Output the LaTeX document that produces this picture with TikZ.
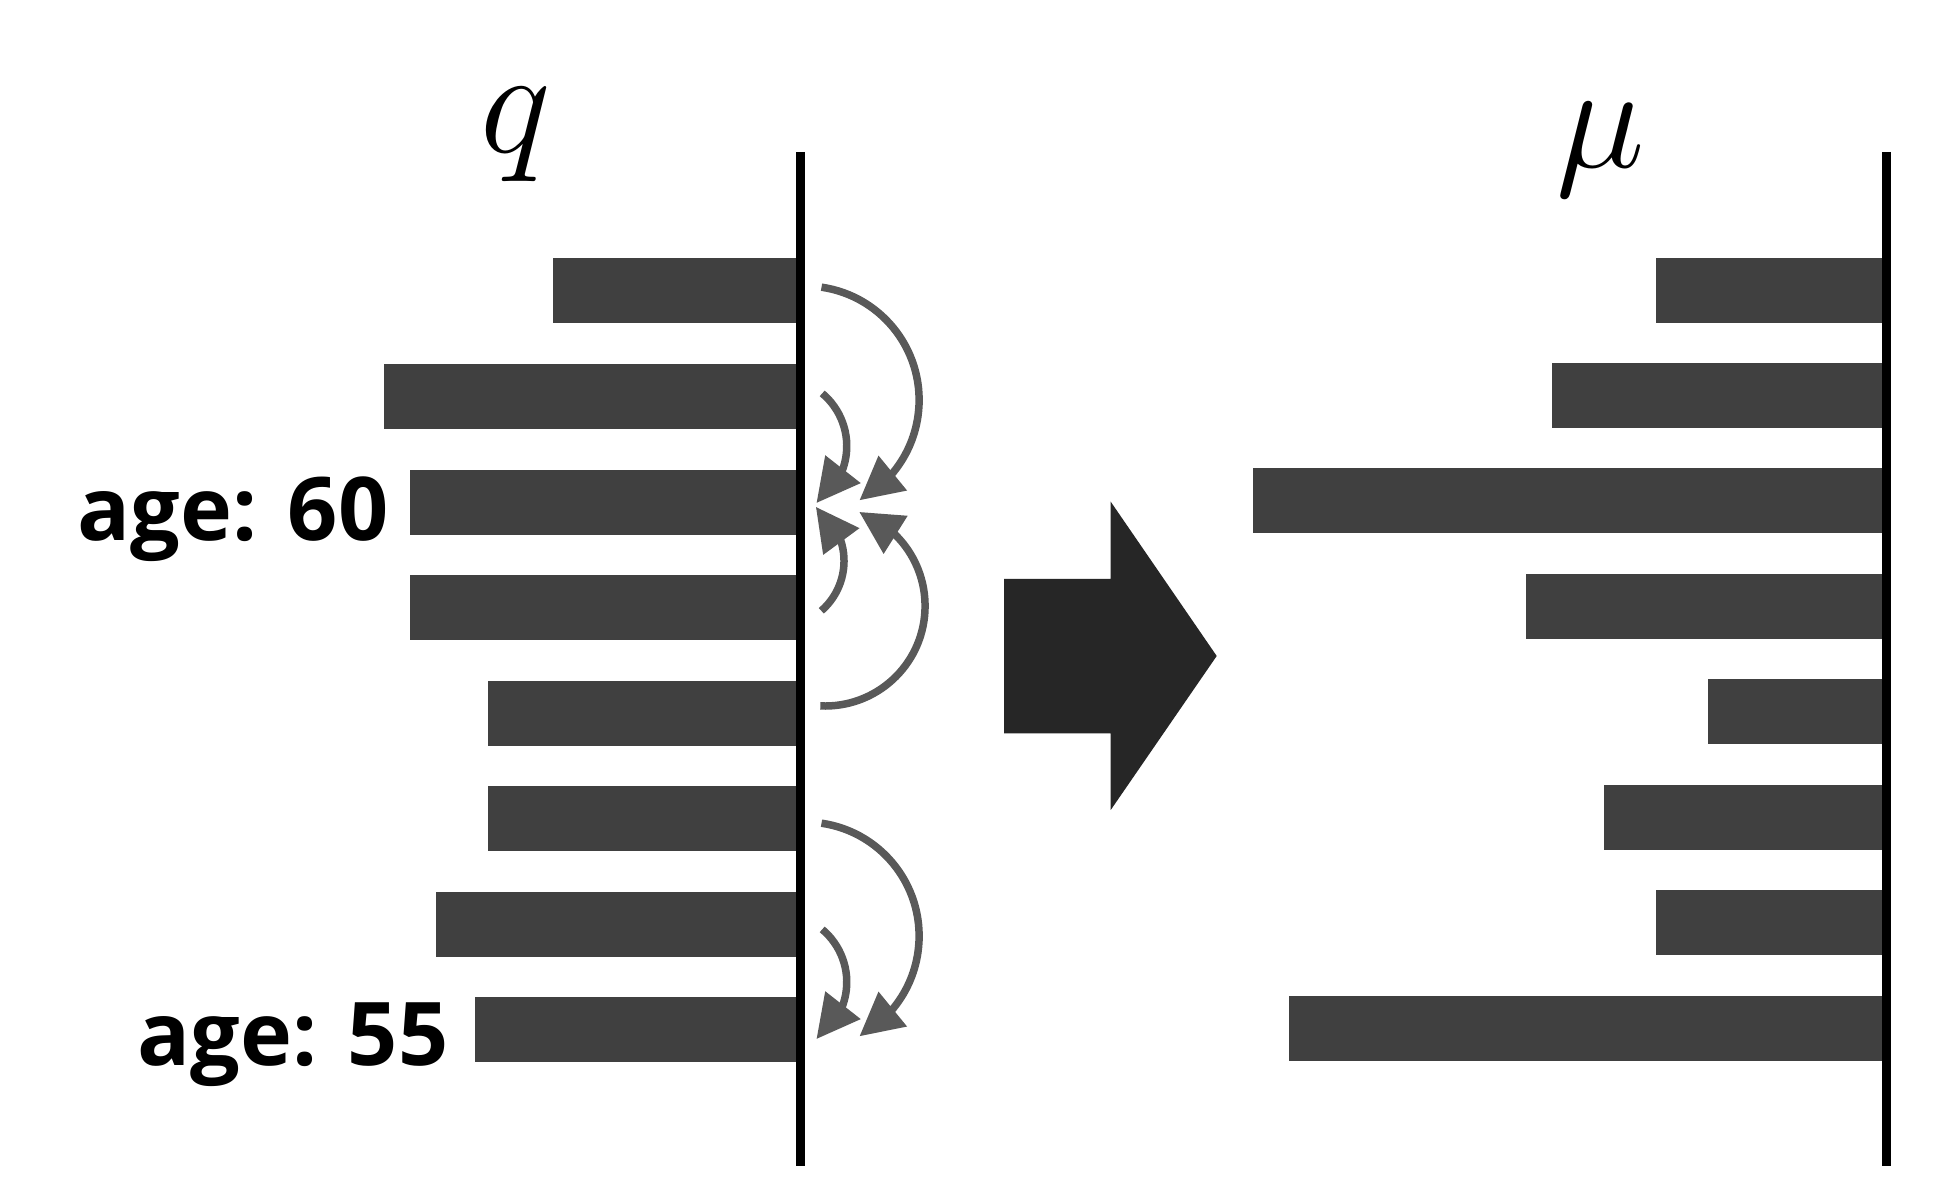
\RequirePackage{fix-cm}
\documentclass[tikz,border=0pt]{standalone}
\usepackage{fontspec}
\newfontfamily\agefont{Open Sans}
\usetikzlibrary{arrows.meta,bending}
\definecolor{barc}{HTML}{404040}
\definecolor{arcc}{HTML}{595959}
\definecolor{blockc}{HTML}{262626}
\begin{document}
\begin{tikzpicture}[x=0.01cm,y=-0.01cm,
  hbar/.style={fill=barc, draw=none, inner sep=0pt, outer sep=0pt, minimum height=0.65cm, anchor=north east},
  axisline/.style={line width=2.56pt, draw=black},
  movearc/.style={draw=arcc, line width=2.13pt, -{Triangle[length=0.43cm, width=0.43cm, flex]}},
  lbl/.style={font=\agefont\bfseries\fontsize{25}{30}\selectfont, inner sep=0pt, anchor=base west},
  sym/.style={font=\fontsize{42.7}{50}\selectfont, inner sep=0pt, anchor=base}]
\useasboundingbox (0,0) rectangle (1949,1189);
\fill[white] (0,0) rectangle (1949,1189);
% left bars
\node[hbar, minimum width=2.47cm] (L1) at (800,258) {};
\node[hbar, minimum width=4.16cm] (L2) at (800,364) {};
\node[hbar, minimum width=3.90cm] (L3) at (800,470) {};
\node[hbar, minimum width=3.90cm] (L4) at (800,575) {};
\node[hbar, minimum width=3.12cm] (L5) at (800,681) {};
\node[hbar, minimum width=3.12cm] (L6) at (800,786) {};
\node[hbar, minimum width=3.64cm] (L7) at (800,892) {};
\node[hbar, minimum width=3.25cm] (L8) at (800,997) {};
% right bars
\node[hbar, minimum width=2.30cm] (R1) at (1886,258) {};
\node[hbar, minimum width=3.34cm] (R2) at (1886,363) {};
\node[hbar, minimum width=6.33cm] (R3) at (1886,468) {};
\node[hbar, minimum width=3.60cm] (R4) at (1886,574) {};
\node[hbar, minimum width=1.78cm] (R5) at (1886,679) {};
\node[hbar, minimum width=2.82cm] (R6) at (1886,785) {};
\node[hbar, minimum width=2.30cm] (R7) at (1886,890) {};
\node[hbar, minimum width=5.97cm] (R8) at (1886,996) {};
% axes
\coordinate (qtop) at (800,152);
\coordinate (qbot) at (800,1166);
\coordinate (mtop) at (1886,152);
\coordinate (mbot) at (1886,1166);
\draw[axisline] (qtop) -- (qbot);
\draw[axisline] (mtop) -- (mbot);
% labels
\node[sym] (qlab) at (516,153) {$q$};
\node[sym] (mulab) at (1601,168) {$\mu$};
\node[lbl] (age60) at (77,541) {age: 60};
\node[lbl] (age55) at (137,1065) {age: 55};
% swap arcs
\coordinate (a1s) at (821.5,287.2);
\draw[movearc] (a1s) arc[start angle=81.7, end angle=-61.5, radius=1.14cm];
\coordinate (a2s) at (822.2,393.4);
\draw[movearc] (a2s) arc[start angle=50, end angle=-56, radius=0.687cm];
\coordinate (a3s) at (821.3,610.8);
\draw[movearc] (a3s) arc[start angle=-49, end angle=55, radius=0.66cm];
\coordinate (a4s) at (820.3,705.9);
\draw[movearc] (a4s) arc[start angle=-92.7, end angle=70, radius=1.0cm];
\coordinate (a5s) at (821.5,823.2);
\draw[movearc] (a5s) arc[start angle=81.7, end angle=-61.5, radius=1.14cm];
\coordinate (a6s) at (822.2,929.4);
\draw[movearc] (a6s) arc[start angle=50, end angle=-56, radius=0.687cm];
% block arrow
\fill[blockc] (1004,579) -- (1110.7,579) -- (1110.7,501.7) -- (1216.7,656) -- (1110.7,810) -- (1110.7,733.3) -- (1004,733.3) -- cycle;
\end{tikzpicture}
\end{document}
